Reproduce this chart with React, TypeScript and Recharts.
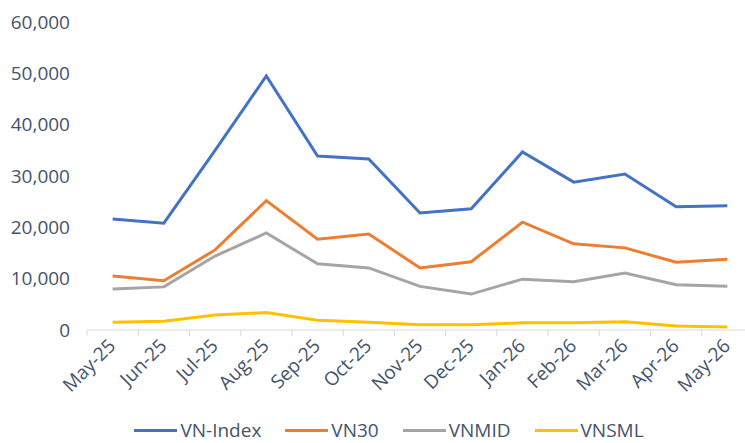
import React from 'react';
import { LineChart, Line, XAxis, YAxis, Legend } from 'recharts';

const months = ['May-25', 'Jun-25', 'Jul-25', 'Aug-25', 'Sep-25', 'Oct-25', 'Nov-25', 'Dec-25', 'Jan-26', 'Feb-26', 'Mar-26', 'Apr-26', 'May-26'];
const vnIndex = [21600, 20800, 35000, 49500, 33900, 33300, 22800, 23600, 34700, 28800, 30400, 24000, 24200];
const vn30 = [10500, 9600, 15600, 25200, 17700, 18700, 12100, 13300, 21000, 16800, 16000, 13200, 13800];
const vnMid = [8000, 8400, 14400, 18900, 12900, 12100, 8500, 7000, 9900, 9400, 11100, 8800, 8500];
const vnSml = [1500, 1700, 2900, 3400, 1900, 1500, 1000, 1000, 1400, 1400, 1600, 800, 600];
const yTicks = [0, 10000, 20000, 30000, 40000, 50000, 60000];

const series = [
    { key: 'vnIndex', name: 'VN-Index', color: '#4472c4' },
    { key: 'vn30', name: 'VN30', color: '#ed7d31' },
    { key: 'vnMid', name: 'VNMID', color: '#a5a5a5' },
    { key: 'vnSml', name: 'VNSML', color: '#ffc000' },
];

const data = months.map((m, i) => ({
    month: m,
    vnIndex: vnIndex[i],
    vn30: vn30[i],
    vnMid: vnMid[i],
    vnSml: vnSml[i],
}));

const textColor = '#44546a';
const font = '"Open Sans", sans-serif';

// Excel-style tick: mark sits on the category boundary, label rotated -45
const MonthTick = (props: any) => {
    const { x, y, payload } = props;
    const off = payload && payload.offset ? payload.offset : 25.6;
    return (
        <g>
            <line x1={x - off} y1={y} x2={x - off} y2={y + 6} stroke="#d9d9d9" strokeWidth={1} />
            <text
                x={x + 4}
                y={y + 17}
                textAnchor="end"
                fill={textColor}
                fontSize={19}
                fontFamily={font}
                transform={`rotate(-45, ${x + 4}, ${y + 17})`}
            >
                {payload.value}
            </text>
        </g>
    );
};

const LegendBox = () => (
    <div style={{ display: 'flex', justifyContent: 'center', alignItems: 'center', height: 26, paddingLeft: 32, fontFamily: font, fontSize: 19, color: textColor }}>
        {series.map(s => (
            <div key={s.key} style={{ display: 'flex', alignItems: 'center', marginRight: 24 }}>
                <div style={{ width: 43, height: 3, background: s.color, marginRight: 3 }} />
                <span>{s.name}</span>
            </div>
        ))}
    </div>
);

const App: React.FC = () => {
    return (
        <div style={{ position: 'absolute', left: 0, top: 0, width: 745, height: 443, overflow: 'hidden', background: '#fff' }}>
            <LineChart width={770} height={443} data={data} margin={{ top: 22, right: 17, left: 0, bottom: 0 }}>
                <XAxis
                    dataKey="month"
                    scale="band"
                    interval={0}
                    height={87}
                    stroke="#d9d9d9"
                    tickLine={false}
                    tickSize={0}
                    tickMargin={0}
                    tick={<MonthTick />}
                />
                <YAxis
                    domain={[0, 60000]}
                    ticks={yTicks}
                    width={87}
                    axisLine={false}
                    tickLine={false}
                    tickSize={0}
                    tickMargin={17}
                    tickFormatter={(v: number) => v.toLocaleString('en-US')}
                    tick={{ fill: textColor, fontSize: 19, fontFamily: font }}
                />
                <Legend
                    verticalAlign="bottom"
                    height={26}
                    content={<LegendBox />}
                    wrapperStyle={{ left: 0, width: 770 }}
                />
                {series.map(s => (
                    <Line
                        key={s.key}
                        type="linear"
                        dataKey={s.key}
                        name={s.name}
                        stroke={s.color}
                        strokeWidth={3}
                        dot={false}
                        activeDot={false}
                        isAnimationActive={false}
                    />
                ))}
            </LineChart>
        </div>
    );
};

export default App;
